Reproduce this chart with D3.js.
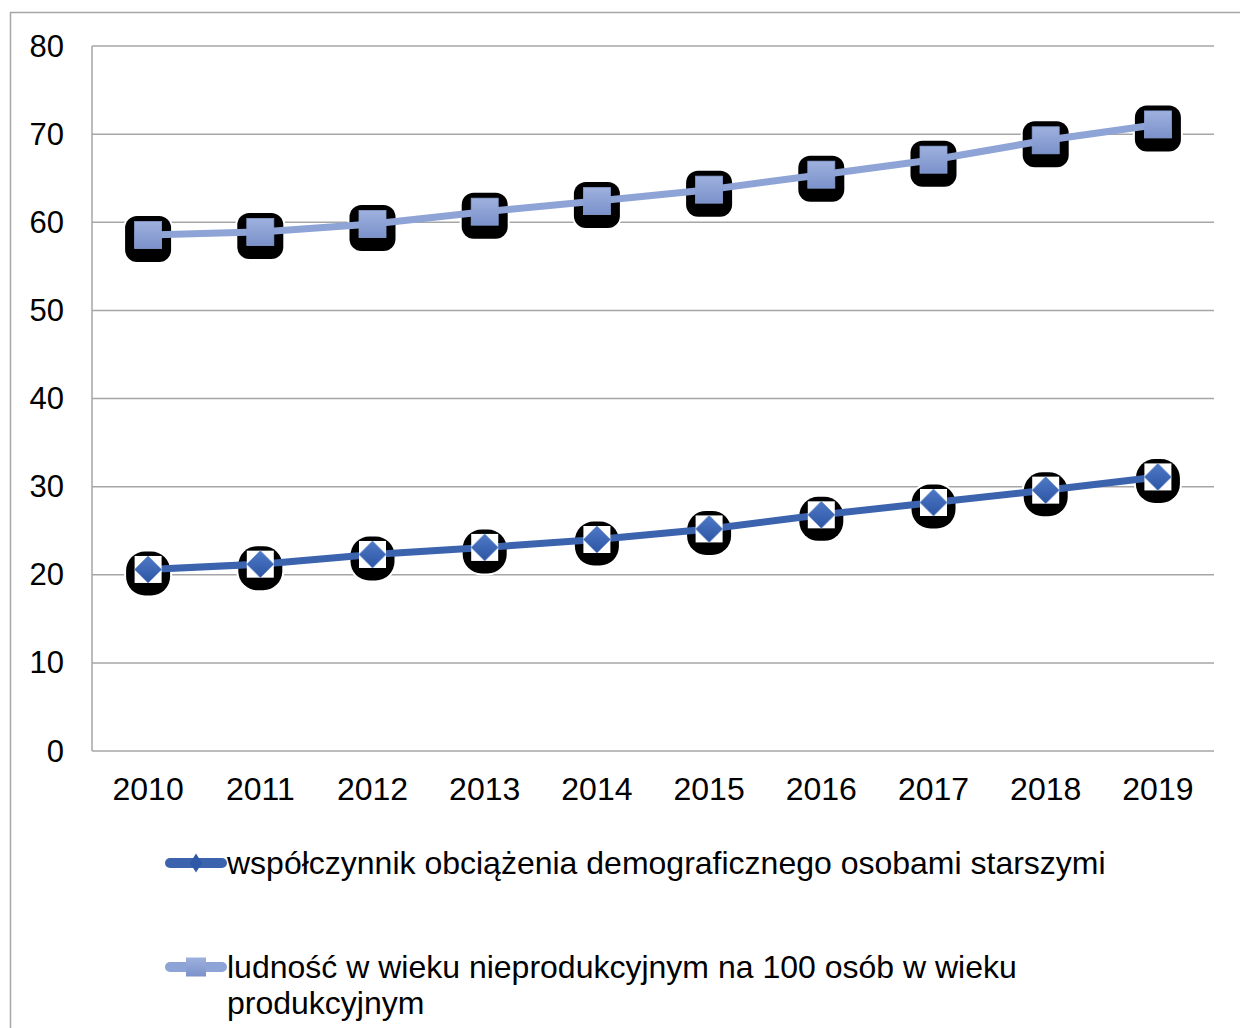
<!DOCTYPE html>
<html><head><meta charset="utf-8">
<script src="https://cdn.jsdelivr.net/npm/d3@7"></script>
<style>body{margin:0;background:#fff}svg{display:block}text{font-family:"Liberation Sans",Arial,sans-serif;fill:#000}</style>
</head><body>
<svg id="c" width="1240" height="1028"></svg>
<script>
const years = ["2010","2011","2012","2013","2014","2015","2016","2017","2018","2019"];
const seriesOld = [20.6,21.2,22.3,23.1,24.0,25.2,26.8,28.2,29.6,31.1];
const seriesNonProd = [58.55,58.9,59.8,61.2,62.4,63.7,65.4,67.1,69.3,71.1];
const yTicks = [0,10,20,30,40,50,60,70,80];
const legendLabels = [
  ["współczynnik obciążenia demograficznego osobami starszymi"],
  ["ludność w wieku nieprodukcyjnym na 100 osób w wieku","produkcyjnym"]
];

(function(){
const svg = d3.select("#c");
const defs = svg.append("defs");
const g1 = defs.append("linearGradient").attr("id","gSq").attr("x1",0).attr("y1",0).attr("x2",0).attr("y2",1);
g1.append("stop").attr("offset","0%").attr("stop-color","#9eb1de");
g1.append("stop").attr("offset","100%").attr("stop-color","#7b91ca");
const g2 = defs.append("linearGradient").attr("id","gDi").attr("x1",0).attr("y1",0).attr("x2",0).attr("y2",1);
g2.append("stop").attr("offset","0%").attr("stop-color","#4f79c6");
g2.append("stop").attr("offset","100%").attr("stop-color","#2c55a3");

// outer border
svg.append("path").attr("d","M10.5,1028 L10.5,12.5 L1240,12.5").attr("fill","none").attr("stroke","#a6a6a6").attr("stroke-width",1.5);

const pL = 92, pR = 1214, pT = 46, pB = 751;
const x = d3.scaleBand().domain(years).range([pL,pR]);
const y = d3.scaleLinear().domain([0,80]).range([pB,pT]);
const cx = d => x(d) + x.bandwidth()/2;

// gridlines
svg.append("g").selectAll("line").data(yTicks).join("line")
  .attr("x1",pL).attr("x2",pR).attr("y1",d=>y(d)).attr("y2",d=>y(d))
  .attr("stroke","#a6a6a6").attr("stroke-width",1.5);
svg.append("line").attr("x1",pL).attr("x2",pL).attr("y1",pT).attr("y2",pB)
  .attr("stroke","#a6a6a6").attr("stroke-width",1.5);

// y labels
svg.append("g").selectAll("text").data(yTicks).join("text")
  .attr("x",64).attr("y",d=>y(d)).attr("text-anchor","end").attr("dominant-baseline","central")
  .attr("font-size",31).text(d=>d);
// x labels
svg.append("g").selectAll("text").data(years).join("text")
  .attr("x",d=>cx(d)).attr("y",800).attr("text-anchor","middle")
  .attr("font-size",32).text(d=>d);

const dataOld = years.map((d,i)=>({k:d,v:seriesOld[i]}));
const dataNP = years.map((d,i)=>({k:d,v:seriesNonProd[i]}));

// shadows
svg.append("g").selectAll("rect").data(dataNP).join("rect")
  .attr("x",d=>cx(d.k)-23).attr("y",d=>y(d.v)-23+4).attr("width",46).attr("height",46).attr("rx",12)
  .attr("fill","#000").attr("stroke","#fff").attr("stroke-width",4).attr("paint-order","stroke");
svg.append("g").selectAll("rect").data(dataOld).join("rect")
  .attr("x",d=>cx(d.k)-22).attr("y",d=>y(d.v)-22+4).attr("width",44).attr("height",44).attr("rx",19)
  .attr("fill","#000").attr("stroke","#fff").attr("stroke-width",4).attr("paint-order","stroke");

const line = d3.line().x(d=>cx(d.k)).y(d=>y(d.v));
svg.append("path").datum(dataNP).attr("d",line).attr("fill","none").attr("stroke","#8ea3d6").attr("stroke-width",7).attr("stroke-linejoin","round");
svg.append("path").datum(dataOld).attr("d",line).attr("fill","none").attr("stroke","#3b63ae").attr("stroke-width",7).attr("stroke-linejoin","round");

// square markers
svg.append("g").selectAll("rect").data(dataNP).join("rect")
  .attr("x",d=>cx(d.k)-13.5).attr("y",d=>y(d.v)-13.5).attr("width",27).attr("height",27)
  .attr("fill","url(#gSq)").attr("stroke","#8aa0d4").attr("stroke-width",0.8);
// diamond markers with white square
svg.append("g").selectAll("rect").data(dataOld).join("rect")
  .attr("x",d=>cx(d.k)-13.5).attr("y",d=>y(d.v)-13.5).attr("width",27).attr("height",27).attr("fill","#fff");
svg.append("g").selectAll("path").data(dataOld).join("path")
  .attr("d",d=>{const X=cx(d.k),Y=y(d.v),r=13.5;return `M${X},${Y-r}L${X+r},${Y}L${X},${Y+r}L${X-r},${Y}Z`;})
  .attr("fill","url(#gDi)").attr("stroke","#6f8fd0").attr("stroke-width",0.8);

// legend
const lg = svg.append("g");
const l1y = 863, l2y = 967;
lg.append("line").attr("x1",170).attr("x2",222).attr("y1",l1y).attr("y2",l1y).attr("stroke","#3b63ae").attr("stroke-width",10).attr("stroke-linecap","round");
lg.append("path").attr("d",`M196,${l1y-9.5}L202,${l1y}L196,${l1y+9.5}L190,${l1y}Z`).attr("fill","#2f58a6");
lg.append("line").attr("x1",170).attr("x2",222).attr("y1",l2y).attr("y2",l2y).attr("stroke","#8ea3d6").attr("stroke-width",10).attr("stroke-linecap","round");
lg.append("rect").attr("x",186).attr("y",l2y-9.5).attr("width",20).attr("height",19).attr("fill","url(#gSq)");
lg.append("text").attr("x",227).attr("y",874).attr("font-size",32).text(legendLabels[0][0]);
lg.append("text").attr("x",227).attr("y",978).attr("font-size",32).text(legendLabels[1][0]);
lg.append("text").attr("x",227).attr("y",1014).attr("font-size",32).text(legendLabels[1][1]);
})();
</script>
</body></html>
